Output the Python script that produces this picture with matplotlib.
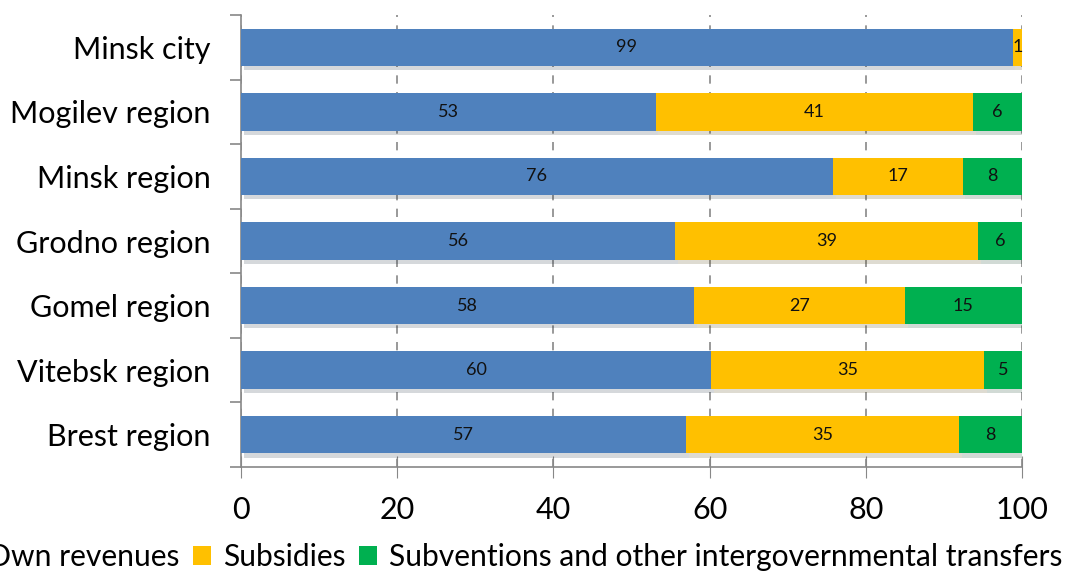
import matplotlib.pyplot as plt
import matplotlib.patheffects as pe
from matplotlib.patches import Patch
import numpy as np

plt.rcParams['font.family'] = ['Lato', 'DejaVu Sans']

regions = ['Minsk city', 'Mogilev region', 'Minsk region', 'Grodno region',
           'Gomel region', 'Vitebsk region', 'Brest region']
own = [98.8, 53.1, 75.8, 55.6, 58.0, 60.2, 57.0]
subsidies = [1.2, 40.6, 16.6, 38.8, 27.0, 34.9, 34.9]
subventions = [0.0, 6.3, 7.7, 5.6, 15.0, 4.9, 8.1]
series_names = ['Own revenues', 'Subsidies',
                'Subventions and other intergovernmental transfers']
colors = ['#4F81BD', '#FFC000', '#00B050']

fig = plt.figure(figsize=(10.71, 5.74), dpi=100)
ax = fig.add_axes([241 / 1071, 1 - 467 / 574, 781 / 1071, 452 / 574])

y = np.arange(len(regions))[::-1]
left = np.zeros(len(regions))
shadow = [pe.SimplePatchShadow(offset=(2, -3), alpha=0.18), pe.Normal()]
for vals, col in zip([own, subsidies, subventions], colors):
    vals = np.array(vals)
    bars = ax.barh(y, vals, left=left, height=0.58, color=col, zorder=3)
    for b in bars:
        b.set_path_effects(shadow)
    labels = ['%.0f' % v if v > 0 else '' for v in vals]
    ax.bar_label(bars, labels=labels, label_type='center', fontsize=13,
                 color='#111111')
    left += vals

ax.set_xlim(0, 100)
ax.set_ylim(-0.5, len(regions) - 0.5)
ax.set_xticks(range(0, 101, 20))
ax.tick_params(axis='x', labelsize=22, direction='inout', length=16,
               color='#888888', pad=13)
ax.set_yticks(y)
ax.set_yticklabels(regions)
ax.tick_params(axis='y', which='major', labelsize=22, length=0, pad=22)
ax.set_yticks(np.arange(-0.5, len(regions), 1), minor=True)
ax.tick_params(axis='y', which='minor', length=8, color='#888888', width=1.2)

for s in ['top', 'right']:
    ax.spines[s].set_visible(False)
for s in ['left', 'bottom']:
    ax.spines[s].set_color('#888888')
    ax.spines[s].set_linewidth(1.2)

ax.grid(axis='x', linestyle=(0, (5, 5)), color='#888888', linewidth=1.2,
        zorder=0)
ax.set_axisbelow(True)

handles = [Patch(facecolor=c) for c in colors]
fig.legend(handles, series_names, loc='center', bbox_to_anchor=(0.476, 0.03),
           ncol=3, frameon=False, fontsize=21.6, handlelength=0.6,
           handleheight=0.6, handletextpad=0.4, columnspacing=0.45)

fig.savefig('out.png', dpi=100)
